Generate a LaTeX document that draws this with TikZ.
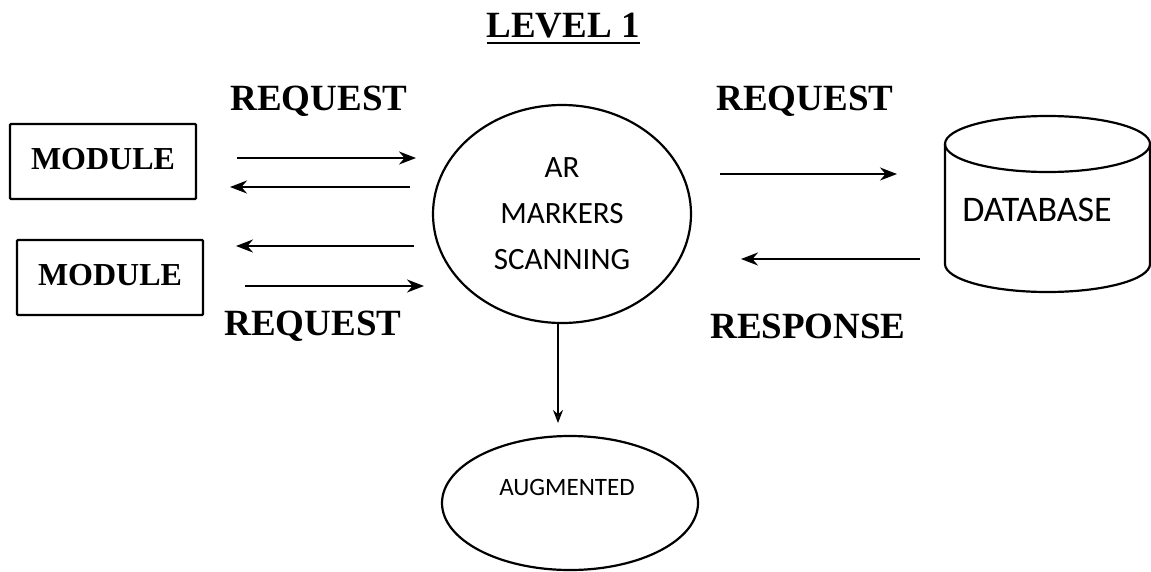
\documentclass[tikz,border=0pt]{standalone}
\usepackage{fontspec}
\setmainfont{Liberation Serif}
\newfontfamily\calib{Carlito}
\usetikzlibrary{arrows.meta,shapes.geometric}
\begin{document}
\begin{tikzpicture}[x=1pt,y=-1pt,
  lbl/.style={font=\fontsize{37}{40}\selectfont\bfseries, inner sep=0pt},
  modbox/.style={draw, line width=2.3pt, minimum width=186pt, minimum height=75pt, inner sep=0pt, font=\fontsize{32}{34}\selectfont\bfseries, rounded corners=1pt},
  flow/.style={line width=2.2pt, -{Stealth[length=17pt,width=13pt]}},
  shp/.style={draw, line width=2.2pt}]
\useasboundingbox (0,0) rectangle (1151,571);
% title
\node[lbl] (title) at (563,26) {LEVEL 1};
\draw[line width=2.6pt] (487,43) -- (640,43);
% labels
\node[lbl] (rq1) at (319,101) {REQUEST};
\node[lbl] (rq2) at (805,101) {REQUEST};
\node[lbl] (rq3) at (313,326) {REQUEST};
\node[lbl] (rsp) at (808,326) {RESPONSE};
% modules
\node[modbox] (m1) at (103,161.5) {\raisebox{6pt}{MODULE}};
\node[modbox] (m2) at (110,277.5) {\raisebox{6pt}{MODULE}};
% central circle
\node[ellipse, shp, minimum width=258pt, minimum height=218pt, align=center,
  font=\calib\fontsize{31}{46}\selectfont] (ar) at (562,214) {AR\\MARKERS\\SCANNING};
% augmented
\node[ellipse, shp, minimum width=256pt, minimum height=134pt, inner sep=0pt] (aug) at (570,503) {};
\node[font=\calib\fontsize{25}{28}\selectfont, inner sep=0pt] (augt) at (567,487) {AUGMENTED};
% database cylinder
\draw[shp] (945,144) -- (945,264) arc[start angle=180,end angle=0,x radius=102.5,y radius=28] -- (1150,144);
\draw[shp] (1047.5,144) ellipse[x radius=102.5,y radius=28];
\node[font=\calib\fontsize{36}{40}\selectfont, inner sep=0pt] (db) at (1037,210) {DATABASE};
% connector endpoints
\coordinate (a1s) at (237,158); \coordinate (a1e) at (416,158);
\coordinate (a2s) at (410,187); \coordinate (a2e) at (230,187);
\coordinate (a3s) at (414,246); \coordinate (a3e) at (236,246);
\coordinate (a4s) at (245,286); \coordinate (a4e) at (424,286);
\coordinate (a5s) at (720,174); \coordinate (a5e) at (897,174);
\coordinate (a6s) at (920,259); \coordinate (a6e) at (741,259);
\coordinate (a7e) at (558,423);
\draw[flow] (a1s) -- (a1e);
\draw[flow] (a2s) -- (a2e);
\draw[flow] (a3s) -- (a3e);
\draw[flow] (a4s) -- (a4e);
\draw[flow] (a5s) -- (a5e);
\draw[flow] (a6s) -- (a6e);
\draw[line width=1.8pt, -{Stealth[length=13pt,width=10pt,open]}] (ar.south -| a7e) -- (a7e);
\end{tikzpicture}
\end{document}
